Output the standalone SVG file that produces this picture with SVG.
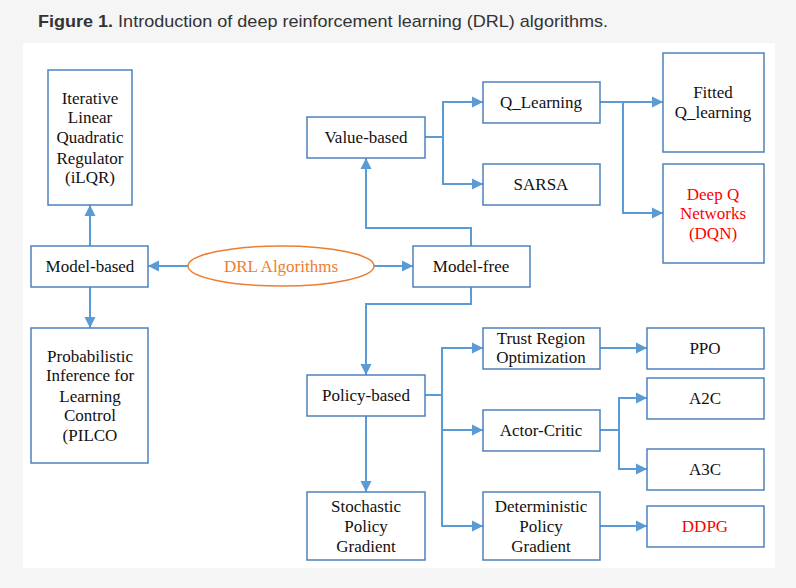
<svg xmlns="http://www.w3.org/2000/svg" width="796" height="588" viewBox="0 0 796 588">
<style>
.box{fill:#fff;stroke:#4f81bd;stroke-width:1.5}
.t{font-family:"Liberation Serif","Times New Roman",serif;font-size:17px;fill:#111;text-anchor:middle}
.red{fill:#ff0000}
.or{fill:#ed7d31}
.c{fill:none;stroke:#5b9bd5;stroke-width:2}
</style>
<defs>
<marker id="ah" markerUnits="userSpaceOnUse" markerWidth="12" markerHeight="12" refX="11" refY="6" orient="auto">
<path d="M0,0.5 L11,6 L0,11.5 Z" fill="#5b9bd5"/>
</marker>
</defs>
<rect width="796" height="588" fill="#f5f5f5"/>
<rect x="23" y="43" width="752" height="525" fill="#fff"/>
<text x="38" y="27" font-family="Liberation Sans,Arial,sans-serif" font-size="17" fill="#333" textLength="570" lengthAdjust="spacingAndGlyphs"><tspan font-weight="bold">Figure 1.</tspan> Introduction of deep reinforcement learning (DRL) algorithms.</text>

<g id="connectors">
<path class="c" d="M90,246 V205" marker-end="url(#ah)"/>
<path class="c" d="M90,287 V328" marker-end="url(#ah)"/>
<path class="c" d="M188,266 H148" marker-end="url(#ah)"/>
<path class="c" d="M374,266 H413" marker-end="url(#ah)"/>
<path class="c" d="M471,246 V228 H366 V158" marker-end="url(#ah)"/>
<path class="c" d="M471,287 V304 H366 V375" marker-end="url(#ah)"/>
<path class="c" d="M425,137 H443 V102 H483" marker-end="url(#ah)"/>
<path class="c" d="M443,137 V184 H483" marker-end="url(#ah)"/>
<path class="c" d="M600,102 H663" marker-end="url(#ah)"/>
<path class="c" d="M623,102 V213 H663" marker-end="url(#ah)"/>
<path class="c" d="M425,395 H442 V348 H483" marker-end="url(#ah)"/>
<path class="c" d="M442,395 V430 H483" marker-end="url(#ah)"/>
<path class="c" d="M442,430 V526 H483" marker-end="url(#ah)"/>
<path class="c" d="M600,348 H647" marker-end="url(#ah)"/>
<path class="c" d="M600,430 H619 V398 H647" marker-end="url(#ah)"/>
<path class="c" d="M619,430 V469 H647" marker-end="url(#ah)"/>
<path class="c" d="M600,526 H647" marker-end="url(#ah)"/>
<path class="c" d="M366,416 V492" marker-end="url(#ah)"/>
</g>

<g id="ilqr"><rect class="box" x="48" y="70" width="84" height="135"/>
<text class="t" x="90" y="104">Iterative</text><text class="t" x="90" y="123">Linear</text><text class="t" x="90" y="143">Quadratic</text><text class="t" x="90" y="164">Regulator</text><text class="t" x="90" y="183">(iLQR)</text></g>
<g id="model-based"><rect class="box" x="31" y="246" width="117" height="41"/><text class="t" x="90" y="272">Model-based</text></g>
<g id="pilco"><rect class="box" x="31" y="328" width="117" height="135"/>
<text class="t" x="90" y="362">Probabilistic</text><text class="t" x="90" y="381">Inference for</text><text class="t" x="90" y="402">Learning</text><text class="t" x="90" y="421">Control</text><text class="t" x="90" y="441">(PILCO</text></g>
<g id="drl"><ellipse cx="281" cy="266" rx="93" ry="20" fill="#fff" stroke="#ed7d31" stroke-width="1.5"/><text class="t or" x="281" y="272">DRL Algorithms</text></g>
<g id="model-free"><rect class="box" x="413" y="246" width="117" height="41"/><text class="t" x="471" y="272">Model-free</text></g>
<g id="value-based"><rect class="box" x="307" y="117" width="118" height="41"/><text class="t" x="366" y="143">Value-based</text></g>
<g id="q-learning"><rect class="box" x="483" y="82" width="117" height="41"/><text class="t" x="541" y="108">Q_Learning</text></g>
<g id="sarsa"><rect class="box" x="483" y="164" width="117" height="41"/><text class="t" x="541" y="190">SARSA</text></g>
<g id="fitted"><rect class="box" x="663" y="53" width="101" height="99"/><text class="t" x="713" y="98">Fitted</text><text class="t" x="713" y="118">Q_learning</text></g>
<g id="dqn"><rect class="box" x="663" y="164" width="101" height="99"/><text class="t red" x="713" y="200">Deep Q</text><text class="t red" x="713" y="219">Networks</text><text class="t red" x="713" y="239">(DQN)</text></g>
<g id="policy-based"><rect class="box" x="307" y="375" width="118" height="41"/><text class="t" x="366" y="401">Policy-based</text></g>
<g id="stochastic"><rect class="box" x="307" y="492" width="118" height="68"/><text class="t" x="366" y="512">Stochastic</text><text class="t" x="366" y="532">Policy</text><text class="t" x="366" y="552">Gradient</text></g>
<g id="trust-region"><rect class="box" x="483" y="328" width="117" height="41"/><text class="t" x="541" y="344">Trust Region</text><text class="t" x="541" y="363">Optimization</text></g>
<g id="actor-critic"><rect class="box" x="483" y="410" width="117" height="41"/><text class="t" x="541" y="436">Actor-Critic</text></g>
<g id="deterministic"><rect class="box" x="483" y="492" width="117" height="68"/><text class="t" x="541" y="512">Deterministic</text><text class="t" x="541" y="532">Policy</text><text class="t" x="541" y="552">Gradient</text></g>
<g id="ppo"><rect class="box" x="647" y="328" width="117" height="41"/><text class="t" x="705" y="354">PPO</text></g>
<g id="a2c"><rect class="box" x="647" y="378" width="117" height="41"/><text class="t" x="705" y="404">A2C</text></g>
<g id="a3c"><rect class="box" x="647" y="449" width="117" height="41"/><text class="t" x="705" y="475">A3C</text></g>
<g id="ddpg"><rect class="box" x="647" y="506" width="117" height="41"/><text class="t red" x="705" y="532">DDPG</text></g>
</svg>
